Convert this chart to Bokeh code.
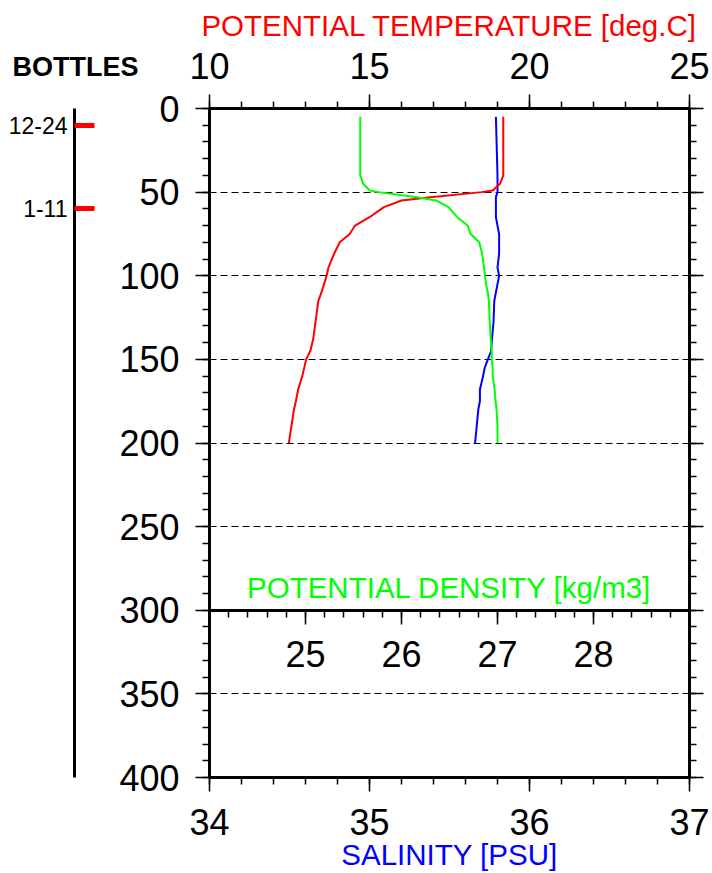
from bokeh.plotting import figure
from bokeh.models import (LinearAxis, Range1d, FixedTicker, SingleIntervalTicker,
                          Label, CustomJSTickFormatter)
from bokeh.embed import file_html
from bokeh.resources import INLINE

FONT = "Liberation Sans"

# ---- data ----
depth = [5, 40, 45, 49, 50, 53, 55, 59, 65, 70, 75, 80, 87, 95, 100, 105, 110, 115,
         128, 138, 145, 150, 155, 160, 168, 175, 180, 190, 200]
temperature = [19.18, 19.18, 19.08, 18.85, 18.50, 16.90, 16.00, 15.45, 15.00, 14.55,
               14.38, 14.07, 13.89, 13.72, 13.66, 13.58, 13.50, 13.40, 13.31, 13.24,
               13.15, 13.02, 12.96, 12.90, 12.77, 12.70, 12.64, 12.56, 12.48]
salinity = [35.79, 35.80, 35.80, 35.80, 35.80, 35.79, 35.79, 35.79, 35.79, 35.80,
            35.81, 35.81, 35.81, 35.80, 35.81, 35.80, 35.79, 35.78, 35.775, 35.765,
            35.76, 35.74, 35.72, 35.71, 35.69, 35.69, 35.68, 35.67, 35.66]
density = [25.57, 25.57, 25.60, 25.67, 25.76, 26.16, 26.36, 26.49, 26.58, 26.69,
           26.72, 26.81, 26.84, 26.86, 26.87, 26.88, 26.90, 26.91, 26.92, 26.93,
           26.94, 26.94, 26.95, 26.95, 26.97, 26.98, 26.99, 27.00, 27.00]

bottle_depths = [10, 60]
bottle_labels = ["12-24", "1-11"]

sal_range = (34, 37)
temp_range = (10, 25)
dens_range = (24, 29)
depth_range = (400, 0)

dens_ticks = [25, 26, 27, 28]
dens_minor = [round(24 + 0.2 * i, 1) for i in range(1, 25)]
grid_depths = [50, 100, 150, 200, 250, 350]
density_axis_depth = 300

# ---- layout constants (pixels) ----
W = 712
STRIP_H = 88
MAIN_H = 873 - STRIP_H
FRAME_L, FRAME_R = 209, 689
px_per_deg = (FRAME_R - FRAME_L) / (temp_range[1] - temp_range[0])
TITLE_SIZE = "29.5px"


def style_axis(ax):
    ax.axis_line_width = 3
    ax.axis_line_color = "black"
    ax.major_tick_out = 14
    ax.major_tick_in = 0
    ax.minor_tick_out = 7
    ax.minor_tick_in = 0
    ax.major_tick_line_width = 1.5
    ax.minor_tick_line_width = 1.5
    ax.major_tick_line_color = "black"
    ax.minor_tick_line_color = "black"
    ax.major_label_text_font = FONT
    ax.major_label_text_font_size = "36px"
    ax.major_label_text_color = "black"
    ax.axis_label_text_font = FONT
    ax.axis_label_text_font_style = "normal"
    ax.axis_label_text_font_size = TITLE_SIZE


# ---------- top strip: temperature labels, title and "BOTTLES" ----------
strip_x0 = temp_range[0] - FRAME_L / px_per_deg
strip_x1 = strip_x0 + W / px_per_deg
top = figure(width=W, height=STRIP_H, x_range=Range1d(strip_x0, strip_x1),
             y_range=Range1d(0, STRIP_H), output_backend="svg", toolbar_location=None,
             x_axis_location=None, y_axis_location=None,
             min_border_left=0, min_border_right=0, min_border_top=0, min_border_bottom=0)
top.outline_line_color = None
top.background_fill_color = "white"
top.border_fill_color = "white"
top.xgrid.visible = False
top.ygrid.visible = False

temp_lab_ax = LinearAxis(ticker=SingleIntervalTicker(interval=5, num_minor_ticks=0),
                         bounds=temp_range, fixed_location=0)
style_axis(temp_lab_ax)
temp_lab_ax.axis_line_color = None
temp_lab_ax.major_tick_out = 0
temp_lab_ax.minor_tick_out = 0
temp_lab_ax.major_label_standoff = 10
temp_lab_ax.axis_label = "POTENTIAL TEMPERATURE [deg.C]"
temp_lab_ax.axis_label_text_color = "#ff0000"
temp_lab_ax.axis_label_standoff = 8
top.add_layout(temp_lab_ax, "above")

top.add_layout(Label(x=12, y=22, x_units="screen", y_units="screen",
                     text="BOTTLES", text_align="left", text_baseline="alphabetic",
                     text_font=FONT, text_font_size="27px", text_font_style="bold",
                     text_color="black"))

# ---------- main plot ----------
p = figure(width=W, height=MAIN_H,
           x_range=Range1d(*sal_range), y_range=Range1d(*depth_range),
           output_backend="svg", toolbar_location=None,
           min_border_left=FRAME_L, min_border_top=108 - STRIP_H,
           min_border_right=W - FRAME_R, min_border_bottom=94)
p.extra_x_ranges = {"temp": Range1d(*temp_range), "dens": Range1d(*dens_range)}
p.background_fill_color = "white"
p.border_fill_color = "white"
p.outline_line_color = "black"
p.outline_line_width = 3

# bottom: salinity
sal_ax = p.xaxis[0]
sal_ax.ticker = SingleIntervalTicker(interval=1, num_minor_ticks=5)
style_axis(sal_ax)
sal_ax.axis_label = "SALINITY [PSU]"
sal_ax.axis_label_text_color = "#0000ff"
sal_ax.major_label_standoff = 17
sal_ax.axis_label_standoff = 0

# top: temperature ticks (labels are in the strip above)
temp_ax = LinearAxis(x_range_name="temp",
                     ticker=SingleIntervalTicker(interval=5, num_minor_ticks=5),
                     formatter=CustomJSTickFormatter(code="return ''"))
style_axis(temp_ax)
temp_ax.major_label_standoff = 0
p.add_layout(temp_ax, "above")

# left: depth
dep_ax = p.yaxis[0]
dep_ax.ticker = SingleIntervalTicker(interval=50, num_minor_ticks=5)
style_axis(dep_ax)
dep_ax.major_label_standoff = 16
dep_ax.axis_label = " "
dep_ax.axis_label_text_font_size = "10px"
dep_ax.axis_label_standoff = 28

# right: depth ticks only
right_ax = LinearAxis(ticker=SingleIntervalTicker(interval=50, num_minor_ticks=5),
                      formatter=CustomJSTickFormatter(code="return ''"))
style_axis(right_ax)
right_ax.major_label_standoff = 0
p.add_layout(right_ax, "right")

# density axis drawn at 300 m
dens_ax = LinearAxis(x_range_name="dens",
                     ticker=FixedTicker(ticks=dens_ticks, minor_ticks=dens_minor),
                     fixed_location=density_axis_depth)
style_axis(dens_ax)
dens_ax.major_label_standoff = 17
p.add_layout(dens_ax, "below")

# bottle axis (outer left)
bottle_ax = LinearAxis(ticker=FixedTicker(ticks=bottle_depths, minor_ticks=[]),
                       major_label_overrides=dict(zip(bottle_depths, bottle_labels)))
bottle_ax.axis_line_width = 3
bottle_ax.axis_line_color = "black"
bottle_ax.major_tick_in = 20
bottle_ax.major_tick_out = 0
bottle_ax.minor_tick_in = 0
bottle_ax.minor_tick_out = 0
bottle_ax.major_tick_line_color = "#ff0000"
bottle_ax.major_tick_line_width = 5
bottle_ax.major_label_standoff = 7
bottle_ax.major_label_text_font = FONT
bottle_ax.major_label_text_font_size = "23px"
bottle_ax.major_label_text_color = "black"
p.add_layout(bottle_ax, "left")

# grid
p.xgrid.visible = False
p.ygrid.ticker = FixedTicker(ticks=grid_depths)
p.ygrid.grid_line_color = "black"
p.ygrid.grid_line_width = 1
p.ygrid.grid_line_dash = "7 4"

# curves
p.line(salinity, depth, line_color="#0000ff", line_width=2)
p.line(temperature, depth, line_color="#ff0000", line_width=2, x_range_name="temp")
p.line(density, depth, line_color="#00ff00", line_width=2, x_range_name="dens")

# density title
p.add_layout(Label(x=(sal_range[0] + sal_range[1]) / 2, y=density_axis_depth, y_offset=23,
                   text="POTENTIAL DENSITY [kg/m3]", text_align="center",
                   text_baseline="alphabetic", text_font=FONT, text_font_size=TITLE_SIZE,
                   text_color="#00ff00"))

open("out.html", "w").write(file_html([top, p], INLINE))
